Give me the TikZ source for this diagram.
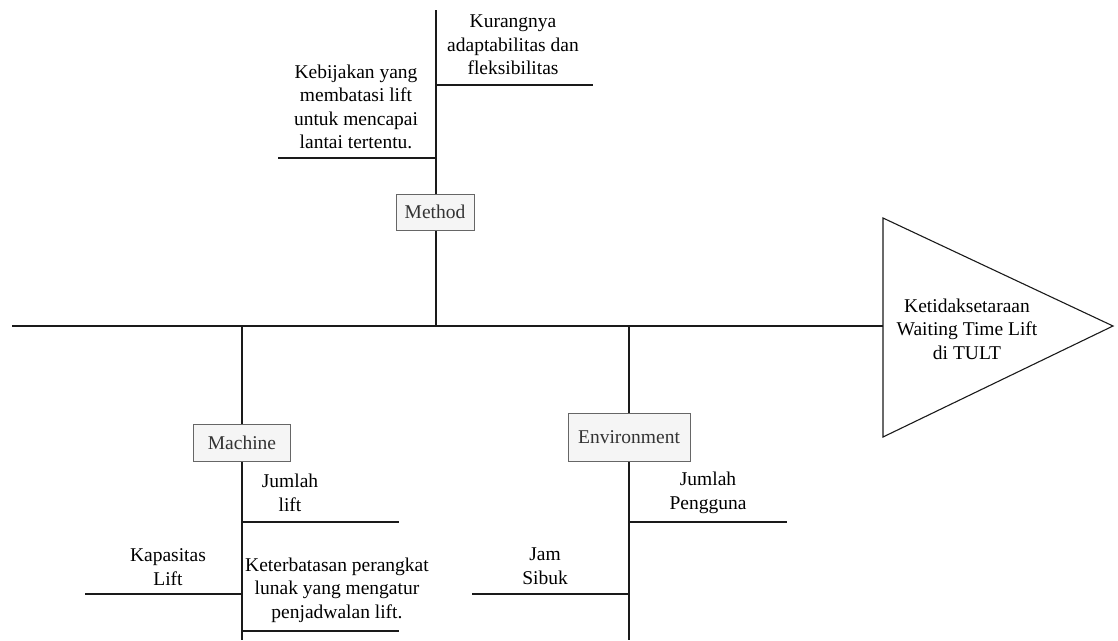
\documentclass[tikz,border=0pt]{standalone}
\usepackage{fontspec}
\setmainfont{Liberation Serif}
\definecolor{boxfill}{HTML}{F5F5F5}
\definecolor{boxline}{HTML}{666666}
\definecolor{boxtext}{HTML}{333333}
\definecolor{linecol}{HTML}{1A1A1A}
\begin{document}
\begin{tikzpicture}[x=1pt,y=-1pt,
  bone/.style={draw=linecol,line width=1.1pt},
  cause/.style={align=center,inner sep=0pt,font=\fontsize{19.5}{23.5}\selectfont},
  cat/.style={draw=boxline,fill=boxfill,text=boxtext,inner sep=0pt,line width=0.9pt,font=\fontsize{19.5}{23.5}\selectfont}]
\useasboundingbox (0,0) rectangle (1118,640);
% spine and head
\coordinate (tail) at (12,326);
\coordinate (hl) at (883,326);
\coordinate (htop) at (883,218);
\coordinate (hbot) at (883,437);
\coordinate (hapex) at (1113,326);
\draw[bone] (tail) -- (hl);
\draw[bone,fill=white] (htop) -- (hapex) -- (hbot) -- cycle;
\node[cause] (effect) at (967,329) {Ketidaksetaraan\\Waiting Time Lift\\di TULT};
% Method bone
\coordinate (mtop) at (436,10);
\coordinate (mbot) at (436,326);
\draw[bone] (mtop) -- (mbot);
\node[cat,minimum width=78pt,minimum height=36pt] (method) at (435,212) {Method};
\coordinate (m1a) at (436,85);
\coordinate (m1b) at (593,85);
\draw[bone] (m1a) -- (m1b);
\node[cause] (kurang) at (513,45) {Kurangnya\\adaptabilitas dan\\fleksibilitas};
\coordinate (m2a) at (278,158);
\coordinate (m2b) at (436,158);
\draw[bone] (m2a) -- (m2b);
\node[cause] (kebijakan) at (356,107) {Kebijakan yang\\membatasi lift\\untuk mencapai\\lantai tertentu.};
% Machine bone
\coordinate (mctop) at (242,326);
\coordinate (mcbot) at (242,640);
\draw[bone] (mctop) -- (mcbot);
\node[cat,minimum width=97pt,minimum height=37pt] (machine) at (242,443) {Machine};
\coordinate (c1a) at (242,522);
\coordinate (c1b) at (399,522);
\draw[bone] (c1a) -- (c1b);
\node[cause] (jlift) at (290,493) {Jumlah\\lift};
\coordinate (c2a) at (85,594);
\coordinate (c2b) at (242,594);
\draw[bone] (c2a) -- (c2b);
\node[cause] (kapasitas) at (168,567) {Kapasitas\\Lift};
\coordinate (c3a) at (242,631);
\coordinate (c3b) at (399,631);
\draw[bone] (c3a) -- (c3b);
\node[cause] (software) at (337,590) {Keterbatasan perangkat\\lunak yang mengatur\\penjadwalan lift.};
% Environment bone
\coordinate (etop) at (629,326);
\coordinate (ebot) at (629,640);
\draw[bone] (etop) -- (ebot);
\node[cat,minimum width=122pt,minimum height=48pt] (env) at (629,437) {Environment};
\coordinate (e1a) at (629,522);
\coordinate (e1b) at (787,522);
\draw[bone] (e1a) -- (e1b);
\node[cause] (pengguna) at (708,493) {Jumlah\\Pengguna};
\coordinate (e2a) at (472,594);
\coordinate (e2b) at (629,594);
\draw[bone] (e2a) -- (e2b);
\node[cause] (jam) at (545,566) {Jam\\Sibuk};
\end{tikzpicture}
\end{document}
